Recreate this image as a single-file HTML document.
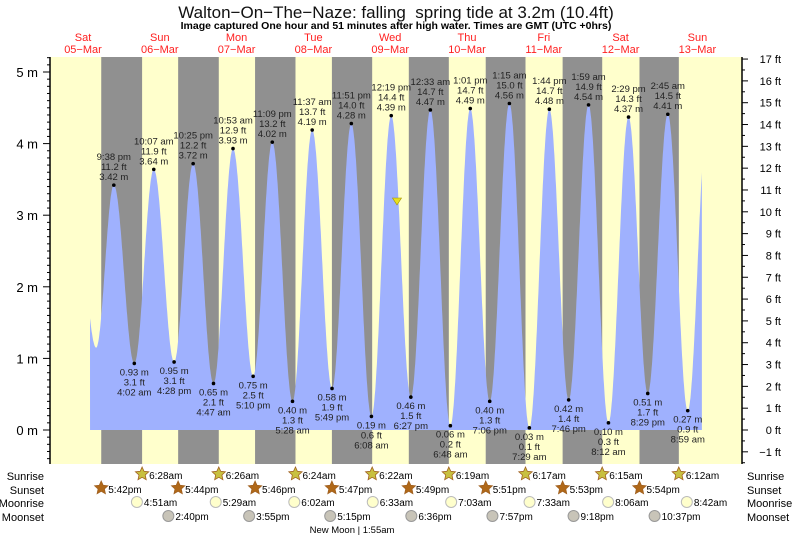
<!DOCTYPE html>
<html><head><meta charset="utf-8"><style>
html,body{margin:0;padding:0;background:#fff;}
svg{display:block;font-family:"Liberation Sans",sans-serif;}
</style></head><body>
<svg id="s" width="793" height="537" xmlns="http://www.w3.org/2000/svg"></svg>
<script>
const X=t=>44.6+3.2*t, Y=m=>430-71.6*m;
let h='';
const L=50,R=742,T=57,B=464;
h+=`<rect x="${L}" y="${T}" width="${R-L}" height="${B-T}" fill="#ffffcc"/>`;
const ss=[17.7,17.733,17.767,17.783,17.817,17.85,17.883,17.9];
const sr=[6.467,6.433,6.4,6.367,6.317,6.283,6.25,6.2];
for(let i=0;i<8;i++){const a=X(24*i+ss[i]),b=X(24*(i+1)+sr[i]);h+=`<rect x="${a}" y="${T}" width="${b-a}" height="${B-T}" fill="#909090"/>`;}
const E=[[10,3.0],[16.1,1.15],[21.63,3.42],[28.03,0.93],[34.12,3.64],[40.47,0.95],[46.42,3.72],[52.78,0.65],[58.88,3.93],[65.17,0.75],[71.15,4.02],[77.47,0.40],[83.62,4.19],[89.82,0.58],[95.85,4.28],[102.13,0.19],[108.32,4.39],[114.45,0.46],[120.55,4.47],[126.8,0.06],[133.02,4.49],[139.1,0.40],[145.25,4.56],[151.48,0.03],[157.73,4.48],[163.77,0.42],[169.98,4.54],[176.2,0.10],[182.48,4.37],[188.48,0.51],[194.75,4.41],[200.98,0.27],[207.2,4.4]];
function v(t){for(let i=0;i<E.length-1;i++){if(t>=E[i][0]&&t<=E[i+1][0]){const f=(t-E[i][0])/(E[i+1][0]-E[i][0]);return E[i+1][1]+(E[i][1]-E[i+1][1])*(1+Math.cos(Math.PI*f))/2;}}return 0;}
let p=`M${X(14.2)},${Y(0)}`;
for(let t=14.2;t<=205.4;t+=0.1)p+=` L${X(t).toFixed(1)},${Y(v(t)).toFixed(1)}`;
p+=` L${X(205.4)},${Y(v(205.4))} L${X(205.4)},${Y(0)} Z`;
h+=`<path d="${p}" fill="#9fb1fe"/>`;
const lab=[["9:38 pm","11.2 ft","3.42 m"],["0.93 m","3.1 ft","4:02 am"],["10:07 am","11.9 ft","3.64 m"],["0.95 m","3.1 ft","4:28 pm"],["10:25 pm","12.2 ft","3.72 m"],["0.65 m","2.1 ft","4:47 am"],["10:53 am","12.9 ft","3.93 m"],["0.75 m","2.5 ft","5:10 pm"],["11:09 pm","13.2 ft","4.02 m"],["0.40 m","1.3 ft","5:28 am"],["11:37 am","13.7 ft","4.19 m"],["0.58 m","1.9 ft","5:49 pm"],["11:51 pm","14.0 ft","4.28 m"],["0.19 m","0.6 ft","6:08 am"],["12:19 pm","14.4 ft","4.39 m"],["0.46 m","1.5 ft","6:27 pm"],["12:33 am","14.7 ft","4.47 m"],["0.06 m","0.2 ft","6:48 am"],["1:01 pm","14.7 ft","4.49 m"],["0.40 m","1.3 ft","7:06 pm"],["1:15 am","15.0 ft","4.56 m"],["0.03 m","0.1 ft","7:29 am"],["1:44 pm","14.7 ft","4.48 m"],["0.42 m","1.4 ft","7:46 pm"],["1:59 am","14.9 ft","4.54 m"],["0.10 m","0.3 ft","8:12 am"],["2:29 pm","14.3 ft","4.37 m"],["0.51 m","1.7 ft","8:29 pm"],["2:45 am","14.5 ft","4.41 m"],["0.27 m","0.9 ft","8:59 am"]];
for(let i=0;i<lab.length;i++){const e=E[i+2],x=X(e[0]),y=Y(e[1]),hi=(i%2==0);
h+=`<circle cx="${x}" cy="${y}" r="1.8" fill="#000"/>`;
const ys=hi?[y-25,y-15,y-5]:[y+12,y+22,y+32];
for(let k=0;k<3;k++)h+=`<text x="${x}" y="${ys[k]}" font-size="9.5" text-anchor="middle" fill="#222">${lab[i][k]}</text>`;}
h+=`<polygon points="392.5,198 401.5,198 397,205" fill="#e8e020" stroke="#a09000" stroke-width="0.6"/>`;
// axes
h+=`<line x1="${L}" y1="${T}" x2="${L}" y2="${B}" stroke="#000" stroke-width="1.5"/><line x1="${R}" y1="${T}" x2="${R}" y2="${B}" stroke="#000" stroke-width="1.5"/>`;
for(let m=-0.4;m<=5.2;m+=0.1){const y=Y(m);if(y<T||y>B)continue;const maj=Math.abs(m-Math.round(m))<0.01;h+=`<line x1="${L}" y1="${y}" x2="${L-(maj?7:3)}" y2="${y}" stroke="#000"/>`;}
for(let m=0;m<=5;m++)h+=`<text x="38" y="${Y(m)+5}" font-size="13" text-anchor="end">${m} m</text>`;
for(let f=-1.5;f<=17.2;f+=0.5){const y=430-21.82*f;if(y<T||y>B)continue;const maj=Math.abs(f-Math.round(f))<0.01;h+=`<line x1="${R}" y1="${y}" x2="${R+(maj?6:3)}" y2="${y}" stroke="#000"/>`;}
for(let f=-1;f<=17;f++)h+=`<text x="781" y="${430-21.82*f+4}" font-size="11" text-anchor="end">${f<0?'\u22121':f} ft</text>`;
// titles
h+=`<text x="396" y="18" font-size="17" text-anchor="middle" fill="#111">Walton\u2212On\u2212The\u2212Naze: falling&#160; spring tide at 3.2m (10.4ft)</text>`;
h+=`<text x="396" y="29" font-size="10.5" font-weight="bold" text-anchor="middle">Image captured One hour and 51 minutes after high water. Times are GMT (UTC +0hrs)</text>`;
const dn=["Sat","Sun","Mon","Tue","Wed","Thu","Fri","Sat","Sun"];
for(let i=0;i<9;i++){const x=X(24*i+12);h+=`<text x="${x}" y="41" font-size="11" fill="#ff2020" text-anchor="middle">${dn[i]}</text><text x="${x}" y="53" font-size="11" fill="#ff2020" text-anchor="middle">${String(5+i).padStart(2,'0')}\u2212Mar</text>`;}
// bottom rows
const rows=[["Sunrise",476],["Sunset",490],["Moonrise",503],["Moonset",517]];
for(const r of rows){h+=`<text x="44" y="${r[1]+4}" font-size="11" text-anchor="end">${r[0]}</text><text x="747" y="${r[1]+4}" font-size="11">${r[0]}</text>`;}
function star(cx,cy,fill){let pts=[];for(let k=0;k<10;k++){const a=-Math.PI/2+k*Math.PI/5,rr=k%2?3.3:7;pts.push((cx+rr*Math.cos(a)).toFixed(1)+','+(cy+rr*Math.sin(a)).toFixed(1));}return `<polygon points="${pts.join(' ')}" fill="${fill}" stroke="#a06020" stroke-width="0.8"/>`;}
const srt=["6:28am","6:26am","6:24am","6:22am","6:19am","6:17am","6:15am","6:12am"];
for(let i=0;i<8;i++){const x=X(24*(i+1)+sr[i]);h+=star(x,474,"#c8c040")+`<circle cx="${x}" cy="474" r="3" fill="#c8c040"/><text x="${x+7}" y="479" font-size="10">${srt[i]}</text>`;}
const sst=["5:42pm","5:44pm","5:46pm","5:47pm","5:49pm","5:51pm","5:53pm","5:54pm"];
for(let i=0;i<8;i++){const x=X(24*i+ss[i]);h+=star(x,488,"#b06818")+`<text x="${x+7}" y="493" font-size="10">${sst[i]}</text>`;}
const mr=[["4:51am",4.85],["5:29am",5.48],["6:02am",6.03],["6:33am",6.55],["7:03am",7.05],["7:33am",7.55],["8:06am",8.1],["8:42am",8.7]];
for(let i=0;i<8;i++){const x=X(24*(i+1)+mr[i][1]);h+=`<circle cx="${x}" cy="502" r="5.5" fill="#ffffcc" stroke="#bbb"/><text x="${x+7}" y="506" font-size="10">${mr[i][0]}</text>`;}
const ms=[["2:40pm",14.67],["3:55pm",15.92],["5:15pm",17.25],["6:36pm",18.6],["7:57pm",19.95],["9:18pm",21.3],["10:37pm",22.62]];
for(let i=0;i<7;i++){const x=X(24*(i+1)+ms[i][1]);h+=`<circle cx="${x}" cy="516" r="5.5" fill="#c8c4b8" stroke="#999"/><text x="${x+7}" y="520" font-size="10">${ms[i][0]}</text>`;}
h+=`<text x="352" y="533" font-size="9.5" text-anchor="middle">New Moon | 1:55am</text>`;
document.getElementById('s').innerHTML=h;
</script>
</body></html>
